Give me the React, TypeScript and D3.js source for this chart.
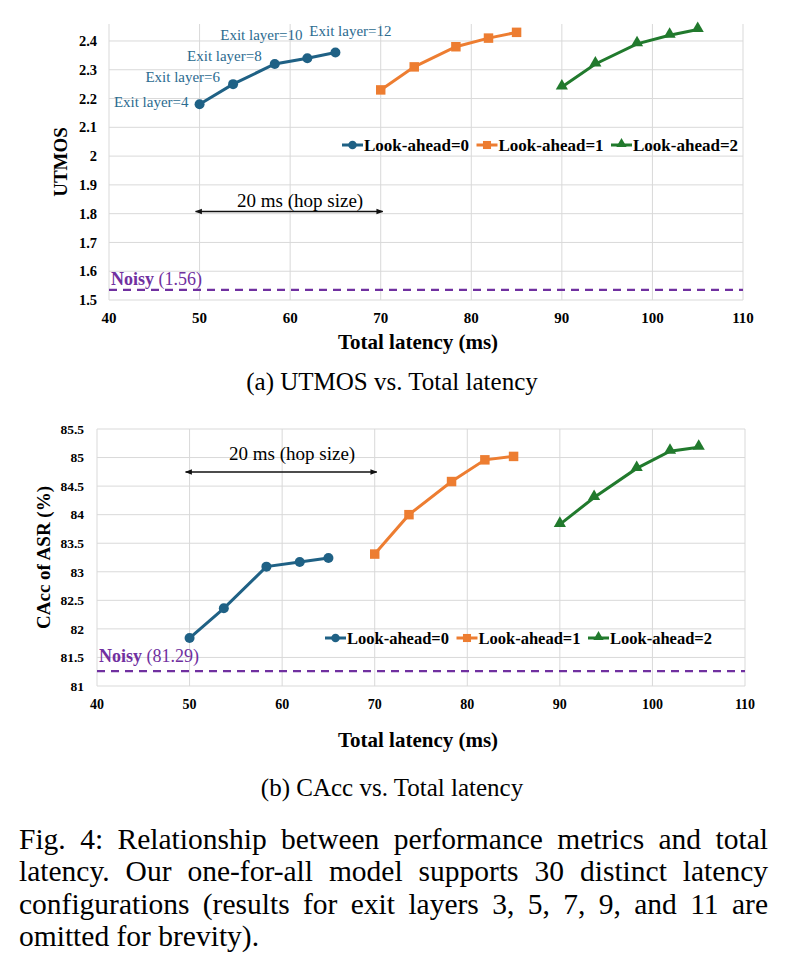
import * as d3 from "d3";

// ---- data ----
const xTicks = [40, 50, 60, 70, 80, 90, 100, 110];
const exitLayers = [4, 6, 8, 10, 12];
const seriesNames = ["Look-ahead=0", "Look-ahead=1", "Look-ahead=2"];

const latency0 = [50, 53.7, 58.3, 61.9, 65];
const latency1 = [70, 73.7, 78.3, 81.9, 85];
const latency2 = [90, 93.7, 98.3, 101.9, 105];

const utmos0 = [2.18, 2.25, 2.32, 2.34, 2.36];
const utmos1 = [2.23, 2.31, 2.38, 2.41, 2.43];
const utmos2 = [2.24, 2.32, 2.39, 2.42, 2.44];
const utmosTicks = [1.5, 1.6, 1.7, 1.8, 1.9, 2, 2.1, 2.2, 2.3, 2.4];
const noisyUtmos = 1.535;
const noisyUtmosLabel = "(1.56)";

const cacc0 = [81.84, 82.36, 83.09, 83.17, 83.24];
const cacc1 = [83.31, 84.0, 84.58, 84.96, 85.02];
const cacc2 = [83.83, 84.3, 84.81, 85.11, 85.18];
const caccTicks = [81, 81.5, 82, 82.5, 83, 83.5, 84, 84.5, 85, 85.5];
const noisyCacc = 81.26;
const noisyCaccLabel = "(81.29)";

const hopFrom = 50;
const hopTo = 70;

const captionLines = [
  "Fig. 4: Relationship between performance metrics and total",
  "latency. Our one-for-all model supports 30 distinct latency",
  "configurations (results for exit layers 3, 5, 7, 9, and 11 are",
  "omitted for brevity).",
];

// ---- styles ----
const COLORS = ["#1f6185", "#ed7d31", "#217a2d"];
const LABEL_BLUE = "#2b6b90";
const PURPLE = "#7030a0";
const GRID = "#d9d9d9";
const SERIF = "'Liberation Serif', 'Times New Roman', serif";
const CAPTION_SIZE = 29.5;

// label offsets for the exit-layer annotations (relative to each point)
const exitOffsets = [
  [-11, 3, "end"],
  [-13, -2, "end"],
  [-13, -3.5, "end"],
  [-46, -18.5, "middle"],
  [15, -16, "middle"],
];

let ctx: CanvasRenderingContext2D | null = null;
function measure(s: string, font: string) {
  if (!ctx) ctx = document.createElement("canvas").getContext("2d");
  if (!ctx) return s.length * 12;
  ctx.font = font;
  return ctx.measureText(s).width;
}

function marker(i: number, x: number, y: number, scale = 1) {
  if (i === 0) return <circle cx={x} cy={y} r={5 * scale} fill={COLORS[0]} />;
  const path = d3
    .symbol()
    .type(i === 1 ? d3.symbolSquare : d3.symbolTriangle)
    .size((i === 1 ? 90 : 64) * scale * scale)();
  return (
    <path
      d={path || ""}
      transform={`translate(${x},${y - (i === 2 ? 1 : 0)})`}
      fill={COLORS[i]}
    />
  );
}

interface PanelProps {
  xRange: [number, number];
  yRange: [number, number];
  yDomain: [number, number];
  yTicks: number[];
  xs: number[][];
  ys: number[][];
  yLabelRight: number;
  tickFont: number;
  xTickY: number;
  yTitle: string;
  yTitleX: number;
  yTitleSize: number;
  xTitleY: number;
  noisy: number;
  noisyLabel: string;
  noisyLabelY: number;
  hopY: number;
  hopTextY: number;
  legend: { x: number; y: number; step: number; size: number };
  exitLabels: boolean;
}

function Panel(p: PanelProps) {
  const x = d3.scaleLinear().domain([40, 110]).range(p.xRange);
  const y = d3.scaleLinear().domain(p.yDomain).range(p.yRange);
  const line = d3
    .line<[number, number]>()
    .x((d) => x(d[0]))
    .y((d) => y(d[1]));
  const top = p.yRange[1];
  const bottom = p.yRange[0];

  return (
    <g>
      {p.yTicks.map((t) => (
        <line
          key={"h" + t}
          x1={p.xRange[0]}
          x2={p.xRange[1]}
          y1={y(t)}
          y2={y(t)}
          stroke={GRID}
          strokeWidth={1}
        />
      ))}
      {xTicks.map((t) => (
        <line
          key={"v" + t}
          x1={x(t)}
          x2={x(t)}
          y1={top}
          y2={bottom}
          stroke={GRID}
          strokeWidth={1}
        />
      ))}
      {p.yTicks.map((t) => (
        <text
          key={"yl" + t}
          x={p.yLabelRight}
          y={y(t)}
          dy="0.35em"
          textAnchor="end"
          fontFamily={SERIF}
          fontWeight="bold"
          fontSize={p.tickFont}
        >
          {String(t)}
        </text>
      ))}
      {xTicks.map((t) => (
        <text
          key={"xl" + t}
          x={x(t)}
          y={p.xTickY}
          dy="0.35em"
          textAnchor="middle"
          fontFamily={SERIF}
          fontWeight="bold"
          fontSize={p.tickFont + 0.5}
        >
          {t}
        </text>
      ))}
      <text
        transform={`translate(${p.yTitleX},${(top + bottom) / 2}) rotate(-90)`}
        textAnchor="middle"
        dy="0.35em"
        fontFamily={SERIF}
        fontWeight="bold"
        fontSize={p.yTitleSize}
      >
        {p.yTitle}
      </text>
      <text
        x={418}
        y={p.xTitleY}
        dy="0.35em"
        textAnchor="middle"
        fontFamily={SERIF}
        fontWeight="bold"
        fontSize={21}
      >
        Total latency (ms)
      </text>
      <line
        x1={p.xRange[0]}
        x2={p.xRange[1]}
        y1={y(p.noisy)}
        y2={y(p.noisy)}
        stroke={PURPLE}
        strokeWidth={2.2}
        strokeDasharray="8 6"
      />
      <text
        x={p.xRange[0] + 2}
        y={p.noisyLabelY}
        dy="0.35em"
        fontFamily={SERIF}
        fontSize={18}
        fill={PURPLE}
      >
        <tspan fontWeight="bold">Noisy</tspan> {p.noisyLabel}
      </text>
      <defs>
        <marker
          id={"arr" + p.hopY}
          viewBox="0 0 10 10"
          refX={9}
          refY={5}
          markerWidth={7}
          markerHeight={7}
          orient="auto-start-reverse"
          markerUnits="userSpaceOnUse"
        >
          <path d="M0,1 L10,5 L0,9 z" fill="#111" />
        </marker>
      </defs>
      <line
        x1={x(hopFrom) - 4}
        x2={x(hopTo) + 2}
        y1={p.hopY}
        y2={p.hopY}
        stroke="#111"
        strokeWidth={1.5}
        markerStart={`url(#arr${p.hopY})`}
        markerEnd={`url(#arr${p.hopY})`}
      />
      <text
        x={(x(hopFrom) + x(hopTo)) / 2 + 10}
        y={p.hopTextY}
        dy="0.35em"
        textAnchor="middle"
        fontFamily={SERIF}
        fontSize={19}
      >
        20 ms (hop size)
      </text>
      {p.xs.map((xv, i) => {
        const pts = xv.map((v, j) => [v, p.ys[i][j]] as [number, number]);
        return (
          <g key={"s" + i}>
            <path
              d={line(pts) || ""}
              fill="none"
              stroke={COLORS[i]}
              strokeWidth={3}
            />
            {pts.map((d, j) => (
              <g key={j}>{marker(i, x(d[0]), y(d[1]))}</g>
            ))}
          </g>
        );
      })}
      {p.exitLabels &&
        exitLayers.map((l, j) => {
          const o = exitOffsets[j];
          return (
            <text
              key={"e" + l}
              x={x(p.xs[0][j]) + (o[0] as number)}
              y={y(p.ys[0][j]) + (o[1] as number)}
              textAnchor={o[2] as string}
              fontFamily={SERIF}
              fontSize={15}
              fill={LABEL_BLUE}
            >
              {`Exit layer=${l}`}
            </text>
          );
        })}
      {seriesNames.map((n, i) => {
        const lx = p.legend.x + i * p.legend.step;
        return (
          <g key={"lg" + i}>
            <line
              x1={lx}
              x2={lx + 21}
              y1={p.legend.y}
              y2={p.legend.y}
              stroke={COLORS[i]}
              strokeWidth={3}
            />
            {marker(i, lx + 10.5, p.legend.y, 0.85)}
            <text
              x={lx + 22}
              y={p.legend.y}
              dy="0.35em"
              fontFamily={SERIF}
              fontWeight="bold"
              fontSize={p.legend.size}
            >
              {n}
            </text>
          </g>
        );
      })}
    </g>
  );
}

function Caption() {
  const left = 19;
  const width = 749;
  const font = `${CAPTION_SIZE}px 'Liberation Serif'`;
  return (
    <g fontFamily={SERIF} fontSize={CAPTION_SIZE}>
      {captionLines.map((l, i) => {
        const yy = 849 + i * 32.3;
        const words = l.split(" ");
        if (i === captionLines.length - 1) {
          return (
            <text key={i} x={left} y={yy}>
              {l}
            </text>
          );
        }
        const ws = words.map((w) => measure(w, font));
        const total = ws.reduce((a, b) => a + b, 0);
        const gap = (width - total) / (words.length - 1);
        let cx = left;
        return (
          <g key={i}>
            {words.map((w, j) => {
              const px = cx;
              cx += ws[j] + gap;
              return (
                <text key={j} x={px} y={yy}>
                  {w}
                </text>
              );
            })}
          </g>
        );
      })}
    </g>
  );
}

export default function App() {
  return (
    <svg
      width={785}
      height={979}
      style={{ position: "absolute", left: 0, top: 0, background: "#fff" }}
    >
      <rect width={785} height={979} fill="#fff" />
      <Panel
        xRange={[109, 743]}
        yRange={[300, 24]}
        yDomain={[1.5, 2.459]}
        yTicks={utmosTicks}
        xs={[latency0, latency1, latency2]}
        ys={[utmos0, utmos1, utmos2]}
        yLabelRight={97}
        tickFont={14.5}
        xTickY={318}
        yTitle="UTMOS"
        yTitleX={60}
        yTitleSize={19}
        xTitleY={342}
        noisy={noisyUtmos}
        noisyLabel={noisyUtmosLabel}
        noisyLabelY={279}
        hopY={211.5}
        hopTextY={200}
        legend={{ x: 342, y: 145, step: 134.5, size: 17 }}
        exitLabels={true}
      />
      <Panel
        xRange={[97, 745]}
        yRange={[686, 429]}
        yDomain={[81, 85.5]}
        yTicks={caccTicks}
        xs={[latency0, latency1, latency2]}
        ys={[cacc0, cacc1, cacc2]}
        yLabelRight={84}
        tickFont={13.5}
        xTickY={704}
        yTitle="CAcc of ASR (%)"
        yTitleX={43}
        yTitleSize={19}
        xTitleY={740}
        noisy={noisyCacc}
        noisyLabel={noisyCaccLabel}
        noisyLabelY={656}
        hopY={472}
        hopTextY={453}
        legend={{ x: 325, y: 638, step: 131.5, size: 16.5 }}
        exitLabels={false}
      />
      <text x={392} y={390} textAnchor="middle" fontFamily={SERIF} fontSize={25}>
        (a) UTMOS vs. Total latency
      </text>
      <text x={392} y={796} textAnchor="middle" fontFamily={SERIF} fontSize={25}>
        (b) CAcc vs. Total latency
      </text>
      <Caption />
    </svg>
  );
}
